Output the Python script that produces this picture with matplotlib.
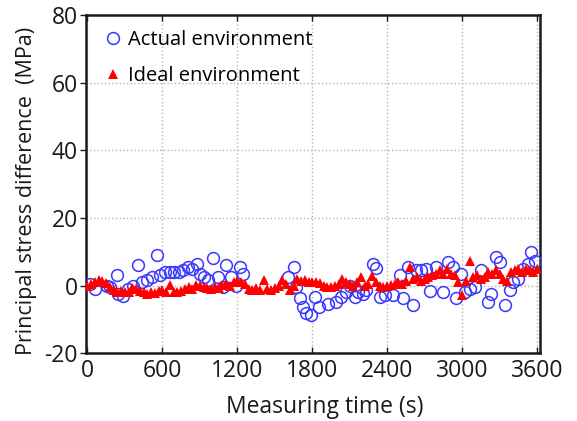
import numpy as np
import matplotlib
matplotlib.use("Agg")
import matplotlib.pyplot as plt

plt.rcParams['font.family'] = ['Open Sans', 'DejaVu Sans']
plt.rcParams['axes.unicode_minus'] = False

# actual environment (blue circles): time (s), stress difference (MPa)
actual_t = [20, 60, 153, 180, 233, 245, 285, 325, 365, 405, 433, 473, 513, 553,
            580, 620, 660, 695, 732, 767, 807, 840, 873, 900, 930, 965, 1007,
            1047, 1087, 1113, 1153, 1193, 1220, 1247, 1607, 1655, 1673, 1700,
            1727, 1753, 1793, 1820, 1850, 1927, 1993, 2033, 2073, 2100, 2140,
            2167, 2207, 2233, 2287, 2313, 2340, 2380, 2447, 2500, 2527, 2567,
            2607, 2633, 2673, 2713, 2740, 2793, 2847, 2887, 2927, 2953, 2993,
            3020, 3060, 3100, 3153, 3207, 3233, 3273, 3300, 3340, 3380, 3407,
            3447, 3487, 3527, 3553, 3580]
actual_v = [0.6, -0.9, 0, -0.3, 3, -2.4, -3, -0.9, 0, 6, 1.2, 1.6, 2.6, 9.2,
            3, 4.1, 4.1, 4.1, 4.1, 4.5, 5.5, 5, 6.5, 3.5, 2.4, 1.6, 8.2,
            2.6, -0.4, 6, 2.6, 0, 5.5, 3.5, 2.6, 5.5, -0.4, -3.8,
            -6.3, -8.2, -8.7, -3.3, -6.3, -5.3, -4.8, -3.3, -1.9, 0, -3.3,
            -1.9, -2.4, -1.4, 6.5, 5.3, -3.3, -2.8, -2.8, 3, -3.8, 5.5,
            -5.8, 4.5, 4.5, 5, -1.6, 5.5, -1.9, 7, 5.5, -3.8, 3.5,
            -1.9, -0.9, -0.4, 4.5, -4.8, -2.4, 8.4, 7, -5.8, -1.4, 1.1,
            2, 5, 6.5, 9.9, 7.4]

# ideal environment (red triangles), one reading every 30 s
ideal_v = [0, 0.5, 1, 1.7, 1.5, 0.7, -0.5, -1.3, -1.8, -1.5,
           -2, -1.8, -0.8, -1, -1.5, -2, -2.5, -2, -2.2, -1.5,
           -1.2, -1.8, 0.2, -1.8, -2, -1.5, -1, -0.5, -1, 0.2,
           0, -0.5, -0.8, -1, -0.5, -0.8, 0.2, 0.5, 0, 1.2,
           1.5, 1, 0.5, -1, -1.3, -0.8, -1.3, 1.7, -1, -1.2,
           -0.8, 0, 1.7, 0.5, -1.3, 0, 2, 1.5, 1.8, 1,
           1.2, 1, 0.8, 0, -0.4, -0.5, -0.2, 0.5, 2, 1,
           0.6, 0, 1, 2.5, 0, 0.5, 2.7, 1, -0.2, -0.5,
           0, 0.3, 0.6, 1, 0.6, 1.5, 5.5, 2, 2.5, 1.5,
           2, 2.5, 3, 3.5, 4.5, 3.5, 5, 3.5, 3, 1,
           -2.8, 1.5, 7.2, 2.5, 3, 2, 2.5, 4, 3.5, 4.5,
           3.5, 2, 1.5, 4, 4.5, 5, 4, 5, 4.5, 4,
           5]
ideal_t = np.arange(len(ideal_v)) * 30

x_ticks = [0, 600, 1200, 1800, 2400, 3000, 3600]
y_ticks = [-20, 0, 20, 40, 60, 80]

fig = plt.figure(figsize=(5.77, 4.21), dpi=100)
ax = fig.add_axes([0.149, 0.161, 0.787, 0.803])

ax.plot(actual_t, actual_v, 'o', mfc='none', mec='#3838ff', ms=8.5, mew=1.1,
        label='Actual environment', zorder=3)
ax.plot(ideal_t, ideal_v, '^', color='#ff0000', ms=7.5, mew=0,
        label='Ideal environment', zorder=4)

ax.set_xlim(-12, 3624)
ax.set_ylim(-20, 80)
ax.set_xticks(x_ticks)
ax.set_yticks(y_ticks)
ax.grid(True, linestyle=':', color='#b5b5b5', linewidth=1)
ax.set_axisbelow(True)

for s in ax.spines.values():
    s.set_linewidth(1.8)
    s.set_color('#1a1a1a')

ax.tick_params(axis='x', direction='in', top=True, length=4, width=1,
               labelsize=16.5, pad=4, colors='#1a1a1a')
ax.tick_params(axis='y', direction='out', length=4, width=1,
               labelsize=16.5, pad=2, colors='#1a1a1a')

ax.set_xlabel('Measuring time (s)', fontsize=16.5, color='#1a1a1a', labelpad=9)
ax.xaxis.label.set_x(0.525)
ax.set_ylabel('Principal stress difference  (MPa)', fontsize=15.5,
              color='#1a1a1a', labelpad=5)
ax.yaxis.label.set_y(0.48)

leg = ax.legend(loc='upper left', frameon=False, fontsize=14.5, handletextpad=0.15,
                handlelength=1.2, borderaxespad=0.35, labelspacing=0.8)

fig.savefig('out.png', dpi=100)
